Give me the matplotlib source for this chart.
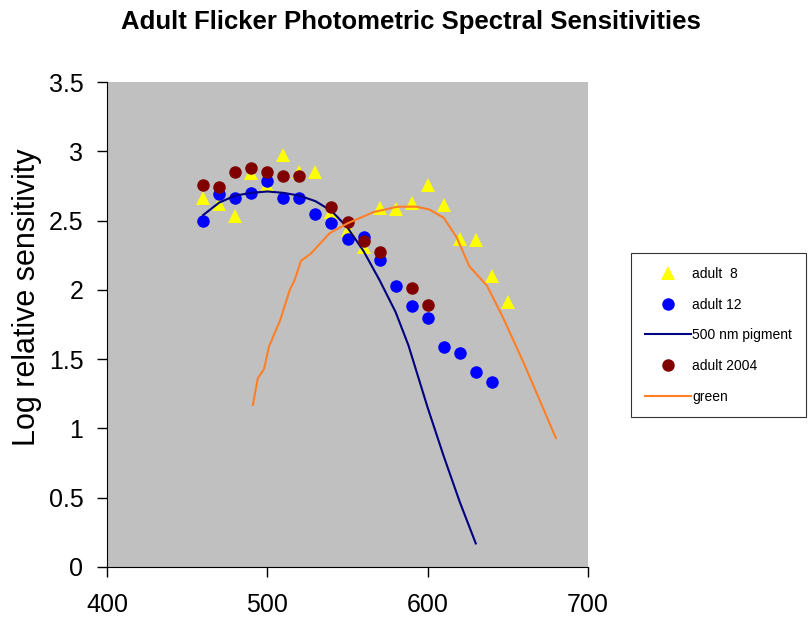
import numpy as np
import matplotlib.pyplot as plt

plt.rcParams['font.family'] = ['Liberation Sans', 'DejaVu Sans']

# adult 8 (yellow triangles)
wl_a8 = [460, 470, 480, 490, 500, 510, 520, 530, 540, 550,
         560, 570, 580, 590, 600, 610, 620, 630, 640, 650]
val_a8 = [2.66, 2.62, 2.53, 2.84, 2.76, 2.97, 2.85, 2.85, 2.56, 2.43,
          2.31, 2.59, 2.58, 2.63, 2.76, 2.61, 2.37, 2.36, 2.10, 1.915]

# adult 12 (blue circles)
wl_a12 = [460, 470, 480, 490, 500, 510, 520, 530, 540, 550,
          560, 570, 580, 590, 600, 610, 620, 630, 640]
val_a12 = [2.50, 2.69, 2.665, 2.70, 2.785, 2.665, 2.665, 2.55, 2.48, 2.37,
           2.385, 2.215, 2.03, 1.88, 1.80, 1.59, 1.545, 1.405, 1.335]

# 500 nm pigment template
wl_pig = [460, 470, 480, 490, 500, 510, 520, 530, 540, 550,
          560, 570, 580, 588, 600, 610, 620, 630]
val_pig = [2.54, 2.63, 2.68, 2.70, 2.71, 2.70, 2.68, 2.64, 2.57, 2.45,
           2.28, 2.07, 1.84, 1.60, 1.15, 0.80, 0.47, 0.17]

# adult 2004 (dark red circles)
wl_a04 = [460, 470, 480, 490, 500, 510, 520, 540, 550, 560, 570, 590, 600]
val_a04 = [2.76, 2.74, 2.85, 2.88, 2.85, 2.82, 2.82, 2.60, 2.49, 2.35,
           2.27, 2.01, 1.89]

# green template
wl_grn = [491, 494, 498, 501, 508, 514, 517, 521, 527, 539, 550, 566,
          581, 593, 601, 610, 618, 626, 637, 647, 660, 670, 680]
val_grn = [1.17, 1.36, 1.43, 1.59, 1.78, 2.00, 2.07, 2.21, 2.26, 2.41, 2.48,
           2.56, 2.60, 2.60, 2.58, 2.52, 2.38, 2.17, 2.03, 1.80, 1.47, 1.20, 0.93]

fig = plt.figure(figsize=(8.08, 6.17), dpi=100)
ax = fig.add_axes([107 / 808, 50 / 617, 481 / 808, 485 / 617])
ax.set_facecolor('#c0c0c0')

ax.plot(wl_a8, val_a8, '^', color='#ffff00', markersize=10, markeredgewidth=0, label='adult  8')
ax.plot(wl_a12, val_a12, 'o', color='#0000ff', markersize=9, markeredgewidth=0, label='adult 12')
ax.plot(wl_pig, val_pig, '-', color='#000080', linewidth=1.5, label='500 nm pigment')
ax.plot(wl_a04, val_a04, 'o', color='#800000', markersize=9, markeredgewidth=0, label='adult 2004')
ax.plot(wl_grn, val_grn, '-', color='#ff7f27', linewidth=1.5, label='green')

ax.set_xlim(400, 700)
ax.set_ylim(0, 3.5)
ax.set_xticks([400, 500, 600, 700])
ax.set_yticks(np.arange(0, 3.51, 0.5))
ax.set_yticklabels(['0', '0.5', '1', '1.5', '2', '2.5', '3', '3.5'])
ax.tick_params(direction='out', length=7, labelsize=18, width=1)
ax.tick_params(axis='x', pad=12)
ax.tick_params(axis='y', pad=10)
ax.spines['top'].set_visible(False)
ax.spines['right'].set_visible(False)
ax.set_ylabel('Log relative sensitivity', fontsize=22)
ax.yaxis.set_label_coords(-(107 - 42) / 481, (567 - 297) / 485)

fig.text(411 / 808, 1 - 22 / 617, 'Adult Flicker Photometric Spectral Sensitivities',
         ha='center', va='center', fontsize=18.5, fontweight='bold')

leg = fig.legend(loc='upper left', bbox_to_anchor=(631 / 808, 1 - 253 / 617),
                 fontsize=10, frameon=True, fancybox=False, edgecolor='black',
                 handlelength=3.3, handletextpad=0.1, labelspacing=1.2,
                 borderpad=1.0, borderaxespad=0)
leg.get_frame().set_linewidth(0.8)

fig.savefig('out.png', dpi=100, facecolor='white')
